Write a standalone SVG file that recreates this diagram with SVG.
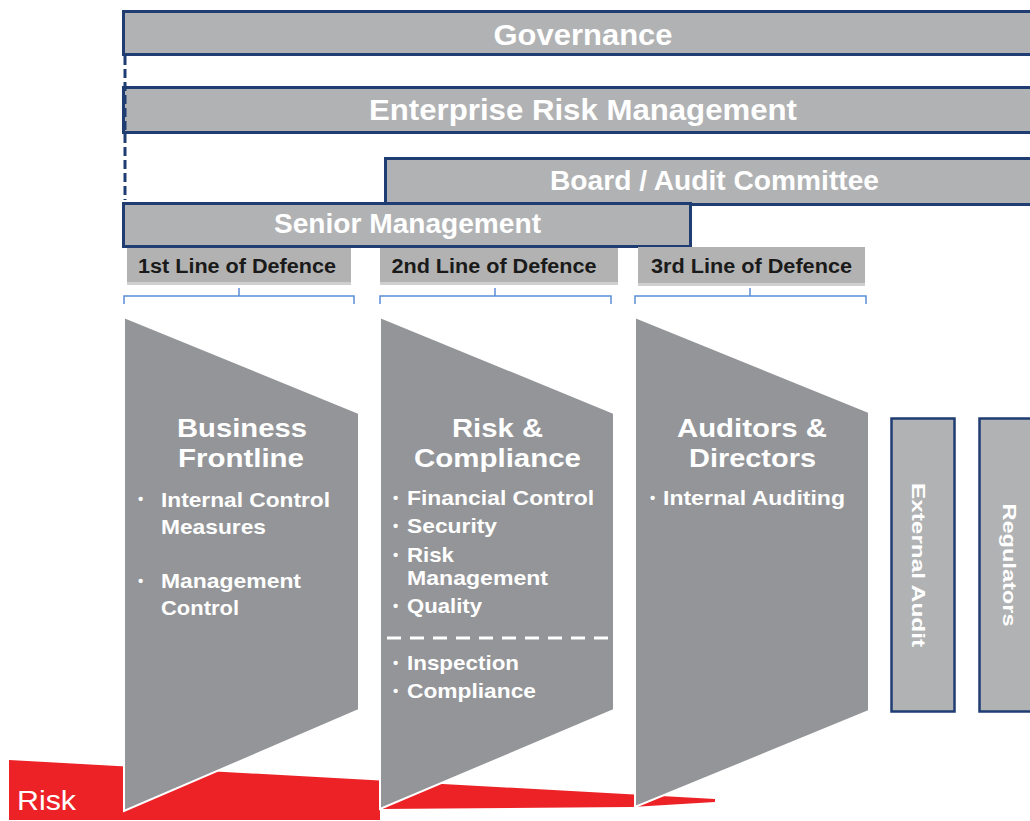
<svg xmlns="http://www.w3.org/2000/svg" width="1030" height="821" viewBox="0 0 1030 821">
<style>
.bar{fill:#b1b2b4;stroke:#1f3d73;stroke-width:3}
.bt{font-family:"Liberation Sans",Arial,sans-serif;font-weight:bold;fill:#ffffff;text-anchor:middle}
.lbl{fill:#b2b2b2}
.lbs{fill:#cfcfcf}
.lt{font-family:"Liberation Sans",Arial,sans-serif;font-weight:bold;font-size:20px;fill:#1a1a1a;text-anchor:middle}
.shape{fill:#939598;stroke:#ffffff;stroke-width:2}
.hd{font-family:"Liberation Sans",Arial,sans-serif;font-weight:bold;font-size:25px;fill:#ffffff;text-anchor:middle}
.bl{font-family:"Liberation Sans",Arial,sans-serif;font-weight:bold;font-size:21px;fill:#ffffff}
.dot{font-family:"Liberation Sans",Arial,sans-serif;font-weight:bold;font-size:15px;fill:#ffffff}
.vbox{fill:#b1b2b4;stroke:#1f3d73;stroke-width:2.5}
.vt{font-family:"Liberation Sans",Arial,sans-serif;font-weight:bold;font-size:19px;fill:#ffffff;text-anchor:middle}
.br{fill:none;stroke:#5b8ed6;stroke-width:1.5}
</style>
<rect width="1030" height="821" fill="#ffffff"/>

<g id="risk">
<polygon points="9,760 715,799 715,802 632,807 380,809 380,820 9,820" fill="#ec2227"/>
<text x="17" y="810" font-family="&quot;Liberation Sans&quot;,Arial,sans-serif" font-size="28" fill="#ffffff" textLength="59" lengthAdjust="spacingAndGlyphs">Risk</text>
</g>

<g id="governance">
<rect class="bar" x="123.5" y="11.5" width="920" height="43"/>
<text class="bt" x="583" y="45" font-size="29" textLength="179" lengthAdjust="spacingAndGlyphs">Governance</text>
</g>

<g id="erm">
<rect class="bar" x="123.5" y="87.5" width="920" height="45"/>
<text class="bt" x="583" y="120" font-size="29" textLength="428" lengthAdjust="spacingAndGlyphs">Enterprise Risk Management</text>
</g>

<g id="board">
<rect class="bar" x="385.5" y="158.5" width="660" height="46"/>
<text class="bt" x="714.5" y="190" font-size="27" textLength="329" lengthAdjust="spacingAndGlyphs">Board / Audit Committee</text>
</g>

<g id="senior-management">
<rect class="bar" x="123.5" y="203.5" width="567" height="43"/>
<text class="bt" x="407.5" y="233" font-size="27" textLength="267" lengthAdjust="spacingAndGlyphs">Senior Management</text>
</g>

<g id="line1-label">
<rect class="lbl" x="127" y="248" width="224" height="37"/>
<rect class="lbs" x="127" y="282" width="224" height="3"/>
<text class="lt" x="237" y="273" textLength="198" lengthAdjust="spacingAndGlyphs">1st Line of Defence</text>
</g>
<g id="line2-label">
<rect class="lbl" x="380" y="248" width="238" height="37"/>
<rect class="lbs" x="380" y="282" width="238" height="3"/>
<text class="lt" x="494" y="273" textLength="205" lengthAdjust="spacingAndGlyphs">2nd Line of Defence</text>
</g>
<g id="line3-label">
<rect class="lbl" x="638" y="247" width="227" height="39"/>
<rect class="lbs" x="638" y="283" width="227" height="3"/>
<text class="lt" x="751.5" y="273" textLength="201" lengthAdjust="spacingAndGlyphs">3rd Line of Defence</text>
</g>

<g id="connectors">
<path d="M125,56 V200" fill="none" stroke="#1f3d73" stroke-width="3" stroke-dasharray="9 4"/>
<path class="br" d="M124,304 V296 H354 V304 M239,296 V288"/>
<path class="br" d="M380,304 V296 H611 V304 M495,296 V288"/>
<path class="br" d="M635,304 V296 H866 V304 M750,296 V288"/>
</g>

<g id="business-frontline">
<polygon class="shape" points="124,317 359,413 359,710 124,811"/>
<text class="hd" x="242" y="437" textLength="130" lengthAdjust="spacingAndGlyphs">Business</text>
<text class="hd" x="241" y="467" textLength="126" lengthAdjust="spacingAndGlyphs">Frontline</text>
<text class="dot" x="138" y="504">•</text>
<text class="bl" x="161" y="507" textLength="169" lengthAdjust="spacingAndGlyphs">Internal Control</text>
<text class="bl" x="161" y="534" textLength="105" lengthAdjust="spacingAndGlyphs">Measures</text>
<text class="dot" x="138" y="586">•</text>
<text class="bl" x="161" y="588" textLength="140" lengthAdjust="spacingAndGlyphs">Management</text>
<text class="bl" x="161" y="615" textLength="78" lengthAdjust="spacingAndGlyphs">Control</text>
</g>

<g id="risk-compliance">
<polygon class="shape" points="380,317 614,413 614,710 380,809"/>
<text class="hd" x="497.5" y="437" textLength="91" lengthAdjust="spacingAndGlyphs">Risk &amp;</text>
<text class="hd" x="497.5" y="467" textLength="167" lengthAdjust="spacingAndGlyphs">Compliance</text>
<text class="dot" x="393" y="503">•</text>
<text class="bl" x="407" y="505" textLength="187" lengthAdjust="spacingAndGlyphs">Financial Control</text>
<text class="dot" x="393" y="531">•</text>
<text class="bl" x="407" y="533" textLength="90" lengthAdjust="spacingAndGlyphs">Security</text>
<text class="dot" x="393" y="560">•</text>
<text class="bl" x="407" y="562" textLength="47" lengthAdjust="spacingAndGlyphs">Risk</text>
<text class="bl" x="407" y="585" textLength="141" lengthAdjust="spacingAndGlyphs">Management</text>
<text class="dot" x="393" y="611">•</text>
<text class="bl" x="407" y="613" textLength="75" lengthAdjust="spacingAndGlyphs">Quality</text>
<path d="M387,638 H614" stroke="#ffffff" stroke-width="3" stroke-dasharray="14 9" fill="none"/>
<text class="dot" x="393" y="668">•</text>
<text class="bl" x="407" y="670" textLength="112" lengthAdjust="spacingAndGlyphs">Inspection</text>
<text class="dot" x="393" y="696">•</text>
<text class="bl" x="407" y="698" textLength="129" lengthAdjust="spacingAndGlyphs">Compliance</text>
</g>

<g id="auditors-directors">
<polygon class="shape" points="635,317 869,412 869,711 635,807"/>
<text class="hd" x="752" y="437" textLength="150" lengthAdjust="spacingAndGlyphs">Auditors &amp;</text>
<text class="hd" x="752.5" y="467" textLength="127" lengthAdjust="spacingAndGlyphs">Directors</text>
<text class="dot" x="650" y="503">•</text>
<text class="bl" x="663" y="505" textLength="182" lengthAdjust="spacingAndGlyphs">Internal Auditing</text>
</g>

<g id="external-audit">
<rect class="vbox" x="891.5" y="418.5" width="63" height="293"/>
<text class="vt" transform="translate(912,565) rotate(90)" textLength="164" lengthAdjust="spacingAndGlyphs">External Audit</text>
</g>

<g id="regulators">
<rect class="vbox" x="979.5" y="418.5" width="70" height="293"/>
<text class="vt" transform="translate(1003,565) rotate(90)" textLength="123" lengthAdjust="spacingAndGlyphs">Regulators</text>
</g>
</svg>
